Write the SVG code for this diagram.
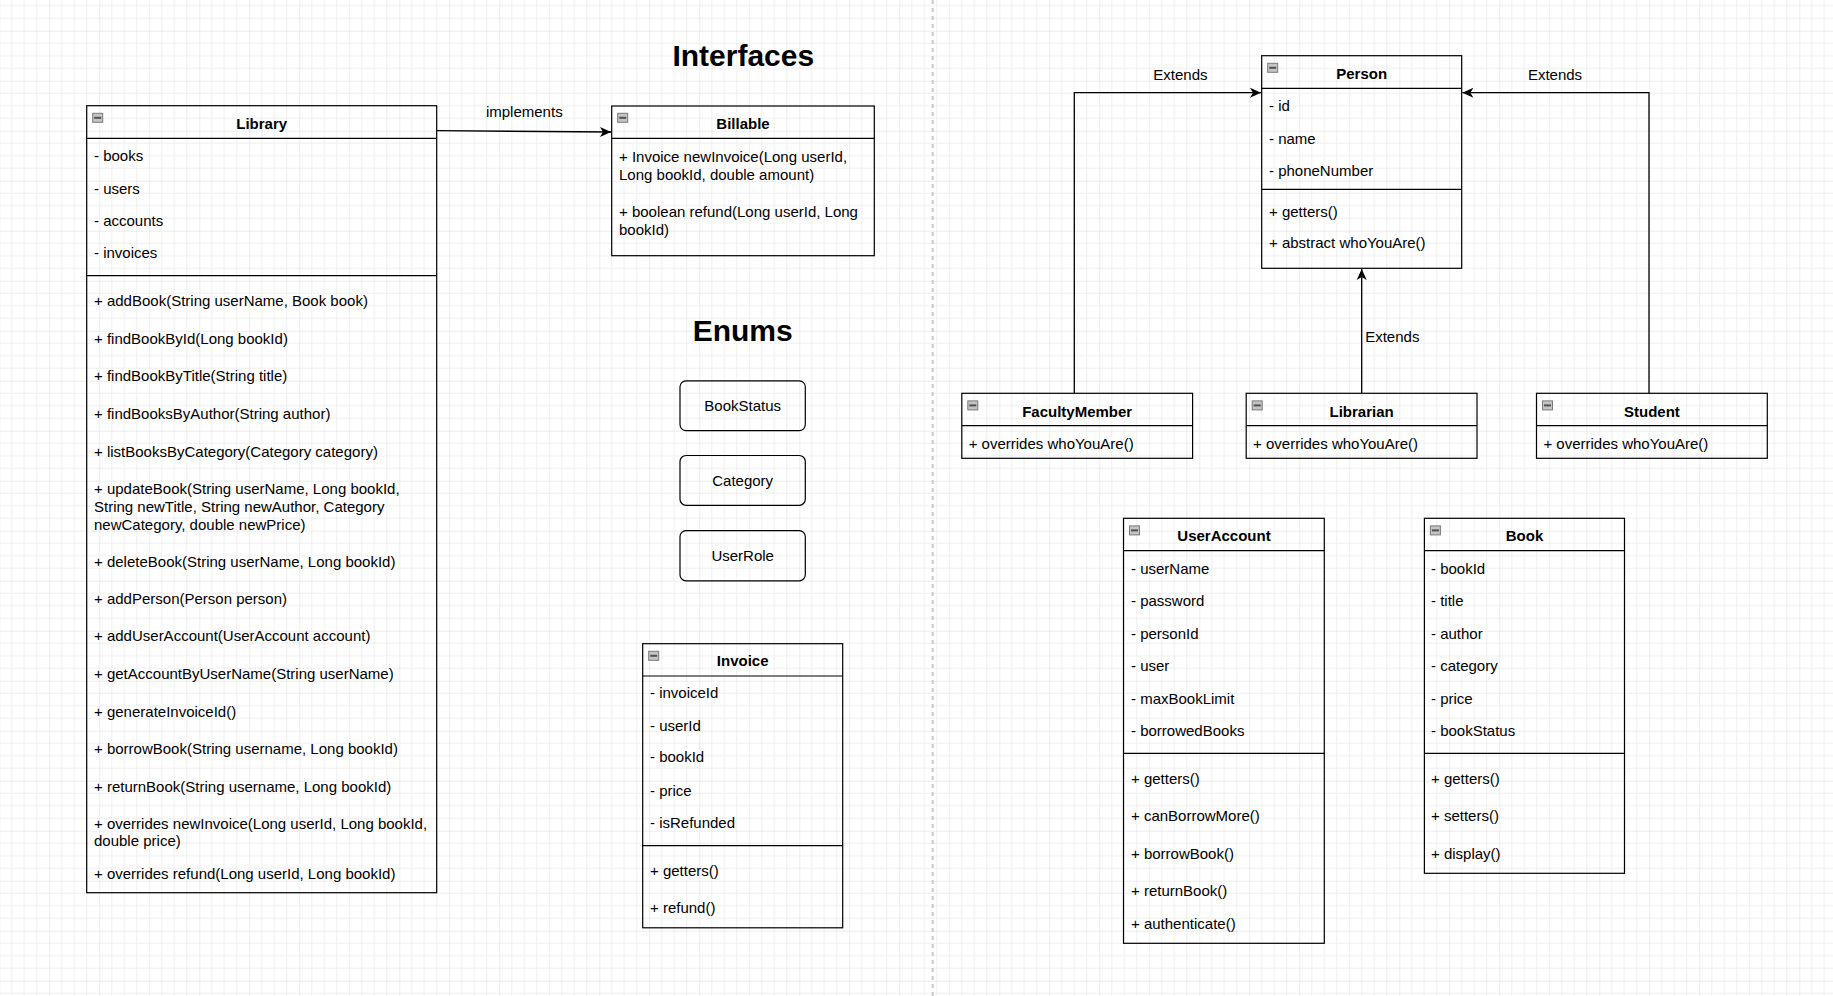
<svg xmlns="http://www.w3.org/2000/svg" width="1833" height="996" viewBox="0 0 1833 996">
<style>
text{font-family:"Liberation Sans",Arial,sans-serif;fill:#000;}
.t{font-size:15px;}
.b{font-size:15px;font-weight:bold;text-anchor:middle;}
.h{font-size:30px;font-weight:bold;text-anchor:middle;}
.c{font-size:15px;text-anchor:middle;}
.box{fill:none;stroke:#000;stroke-width:1.2;}
.sep{stroke:#000;stroke-width:1.2;fill:none;}
.edge{fill:none;stroke:#000;stroke-width:1.3;}
.ic{fill:#c4c4c4;stroke:#7a7a7a;stroke-width:1;}
.icl{stroke:#505050;stroke-width:2;}
</style>
<defs>
<pattern id="grid" x="-0.7" y="30.7" width="50" height="50" patternUnits="userSpaceOnUse">
<path d="M12.5 0V50M25 0V50M37.5 0V50M0 12.5H50M0 25H50M0 37.5H50" stroke="#efefef" stroke-width="1" fill="none"/>
<path d="M0 0V50M0 0H50" stroke="#dcdcdc" stroke-width="1" fill="none"/>
</pattern>
<marker id="arr" viewBox="-12 -6 13 12" refX="0" refY="0" markerWidth="13" markerHeight="12" markerUnits="userSpaceOnUse" orient="auto">
<path d="M0,0 L-11,-5 L-8,0 L-11,5 Z" fill="#000"/>
</marker>
<g id="icon"><rect class="ic" x="0" y="0" width="10" height="9"/><line class="icl" x1="1.5" y1="4.5" x2="8.5" y2="4.5"/></g>
</defs>
<rect width="1833" height="996" fill="#fff"/>
<rect width="1833" height="996" fill="url(#grid)"/>
<line x1="932.7" y1="0" x2="932.7" y2="996" stroke="#c8c8c8" stroke-width="2" stroke-dasharray="4 4"/>

<text class="h" x="743.3" y="65.5">Interfaces</text>
<text class="h" x="742.7" y="341">Enums</text>

<g id="connectors">
<path class="edge" d="M436.7 130.7 L611 132" marker-end="url(#arr)"/>
<text class="c" x="524.3" y="117">implements</text>
<path class="edge" d="M1074.3 393.3 V92.7 H1261" marker-end="url(#arr)"/>
<text class="c" x="1180.4" y="80.3">Extends</text>
<path class="edge" d="M1649 393.3 V92.7 H1462.4" marker-end="url(#arr)"/>
<text class="c" x="1555" y="80.3">Extends</text>
<path class="edge" d="M1361.7 393.3 V269" marker-end="url(#arr)"/>
<text class="c" x="1392.3" y="342">Extends</text>
</g>

<g id="Library">
<rect class="box" x="86.7" y="105.7" width="350" height="787"/>
<line class="sep" x1="86.7" y1="138.3" x2="436.7" y2="138.3"/>
<line class="sep" x1="86.7" y1="275.7" x2="436.7" y2="275.7"/>
<use href="#icon" x="92.7" y="113.3"/>
<text class="b" x="261.7" y="128.6">Library</text>
<text class="t" x="94" y="161.3">- books</text>
<text class="t" x="94" y="193.6">- users</text>
<text class="t" x="94" y="226.3">- accounts</text>
<text class="t" x="94" y="258.3">- invoices</text>
<text class="t" x="94" y="306.3">+ addBook(String userName, Book book)</text>
<text class="t" x="94" y="343.6">+ findBookById(Long bookId)</text>
<text class="t" x="94" y="381.3">+ findBookByTitle(String title)</text>
<text class="t" x="94" y="418.6">+ findBooksByAuthor(String author)</text>
<text class="t" x="94" y="457">+ listBooksByCategory(Category category)</text>
<text class="t" x="94" y="494.3">+ updateBook(String userName, Long bookId,</text>
<text class="t" x="94" y="512">String newTitle, String newAuthor, Category</text>
<text class="t" x="94" y="529.6">newCategory, double newPrice)</text>
<text class="t" x="94" y="567">+ deleteBook(String userName, Long bookId)</text>
<text class="t" x="94" y="603.6">+ addPerson(Person person)</text>
<text class="t" x="94" y="641.3">+ addUserAccount(UserAccount account)</text>
<text class="t" x="94" y="678.6">+ getAccountByUserName(String userName)</text>
<text class="t" x="94" y="717">+ generateInvoiceId()</text>
<text class="t" x="94" y="753.6">+ borrowBook(String username, Long bookId)</text>
<text class="t" x="94" y="792">+ returnBook(String username, Long bookId)</text>
<text class="t" x="94" y="828.6">+ overrides newInvoice(Long userId, Long bookId,</text>
<text class="t" x="94" y="846.3">double price)</text>
<text class="t" x="94" y="878.6">+ overrides refund(Long userId, Long bookId)</text>
</g>

<g id="Billable">
<rect class="box" x="611.7" y="106" width="262.6" height="149.7"/>
<line class="sep" x1="611.7" y1="138.3" x2="874.3" y2="138.3"/>
<use href="#icon" x="617.7" y="113.3"/>
<text class="b" x="743" y="128.6">Billable</text>
<text class="t" x="619" y="162">+ Invoice newInvoice(Long userId,</text>
<text class="t" x="619" y="179.6">Long bookId, double amount)</text>
<text class="t" x="619" y="217">+ boolean refund(Long userId, Long</text>
<text class="t" x="619" y="234.6">bookId)</text>
</g>

<g id="BookStatus">
<rect class="box" x="680" y="380.8" width="125.3" height="49.8" rx="6"/>
<text class="c" x="742.7" y="410.6">BookStatus</text>
</g>
<g id="Category">
<rect class="box" x="680" y="455.5" width="125.3" height="49.8" rx="6"/>
<text class="c" x="742.7" y="486">Category</text>
</g>
<g id="UserRole">
<rect class="box" x="680" y="530.6" width="125.3" height="50.2" rx="6"/>
<text class="c" x="742.7" y="560.8">UserRole</text>
</g>

<g id="Invoice">
<rect class="box" x="642.7" y="643.7" width="200" height="284.1"/>
<line class="sep" x1="642.7" y1="676" x2="842.7" y2="676"/>
<line class="sep" x1="642.7" y1="845.7" x2="842.7" y2="845.7"/>
<use href="#icon" x="648.7" y="651.3"/>
<text class="b" x="742.7" y="665.6">Invoice</text>
<text class="t" x="650" y="698">- invoiceId</text>
<text class="t" x="650" y="731">- userId</text>
<text class="t" x="650" y="762.4">- bookId</text>
<text class="t" x="650" y="795.9">- price</text>
<text class="t" x="650" y="827.7">- isRefunded</text>
<text class="t" x="650" y="875.9">+ getters()</text>
<text class="t" x="650" y="912.6">+ refund()</text>
</g>

<g id="Person">
<rect class="box" x="1261.7" y="55.7" width="200" height="212.6"/>
<line class="sep" x1="1261.7" y1="88.3" x2="1461.7" y2="88.3"/>
<line class="sep" x1="1261.7" y1="189.3" x2="1461.7" y2="189.3"/>
<use href="#icon" x="1267.7" y="63.3"/>
<text class="b" x="1361.7" y="78.6">Person</text>
<text class="t" x="1269" y="111.3">- id</text>
<text class="t" x="1269" y="143.6">- name</text>
<text class="t" x="1269" y="176.3">- phoneNumber</text>
<text class="t" x="1269" y="217">+ getters()</text>
<text class="t" x="1269" y="248">+ abstract whoYouAre()</text>
</g>

<g id="FacultyMember">
<rect class="box" x="961.8" y="393.3" width="230.8" height="65"/>
<line class="sep" x1="961.8" y1="425.7" x2="1192.6" y2="425.7"/>
<use href="#icon" x="967.8" y="400.9"/>
<text class="b" x="1077.2" y="417">FacultyMember</text>
<text class="t" x="968.7" y="448.6">+ overrides whoYouAre()</text>
</g>
<g id="Librarian">
<rect class="box" x="1246.2" y="393.3" width="230.8" height="65"/>
<line class="sep" x1="1246.2" y1="425.7" x2="1477" y2="425.7"/>
<use href="#icon" x="1252.2" y="400.9"/>
<text class="b" x="1361.6" y="417">Librarian</text>
<text class="t" x="1253.1" y="448.6">+ overrides whoYouAre()</text>
</g>
<g id="Student">
<rect class="box" x="1536.5" y="393.3" width="230.8" height="65"/>
<line class="sep" x1="1536.5" y1="425.7" x2="1767.3" y2="425.7"/>
<use href="#icon" x="1542.5" y="400.9"/>
<text class="b" x="1651.9" y="417">Student</text>
<text class="t" x="1543.4" y="448.6">+ overrides whoYouAre()</text>
</g>

<g id="UserAccount">
<rect class="box" x="1123.5" y="518.3" width="200.8" height="425"/>
<line class="sep" x1="1123.5" y1="550.7" x2="1324.3" y2="550.7"/>
<line class="sep" x1="1123.5" y1="753.3" x2="1324.3" y2="753.3"/>
<use href="#icon" x="1129.5" y="525.9"/>
<text class="b" x="1224" y="541">UserAccount</text>
<text class="t" x="1131" y="573.6">- userName</text>
<text class="t" x="1131" y="606.3">- password</text>
<text class="t" x="1131" y="638.6">- personId</text>
<text class="t" x="1131" y="671.3">- user</text>
<text class="t" x="1131" y="703.6">- maxBookLimit</text>
<text class="t" x="1131" y="736.3">- borrowedBooks</text>
<text class="t" x="1131" y="783.6">+ getters()</text>
<text class="t" x="1131" y="821.3">+ canBorrowMore()</text>
<text class="t" x="1131" y="858.6">+ borrowBook()</text>
<text class="t" x="1131" y="896.3">+ returnBook()</text>
<text class="t" x="1131" y="928.6">+ authenticate()</text>
</g>

<g id="Book">
<rect class="box" x="1424.4" y="518.3" width="200.1" height="355"/>
<line class="sep" x1="1424.4" y1="550.7" x2="1624.5" y2="550.7"/>
<line class="sep" x1="1424.4" y1="753.3" x2="1624.5" y2="753.3"/>
<use href="#icon" x="1430.4" y="525.9"/>
<text class="b" x="1524.5" y="541">Book</text>
<text class="t" x="1431" y="573.6">- bookId</text>
<text class="t" x="1431" y="606.3">- title</text>
<text class="t" x="1431" y="638.6">- author</text>
<text class="t" x="1431" y="671.3">- category</text>
<text class="t" x="1431" y="703.6">- price</text>
<text class="t" x="1431" y="736.3">- bookStatus</text>
<text class="t" x="1431" y="783.6">+ getters()</text>
<text class="t" x="1431" y="821.3">+ setters()</text>
<text class="t" x="1431" y="858.6">+ display()</text>
</g>
</svg>
